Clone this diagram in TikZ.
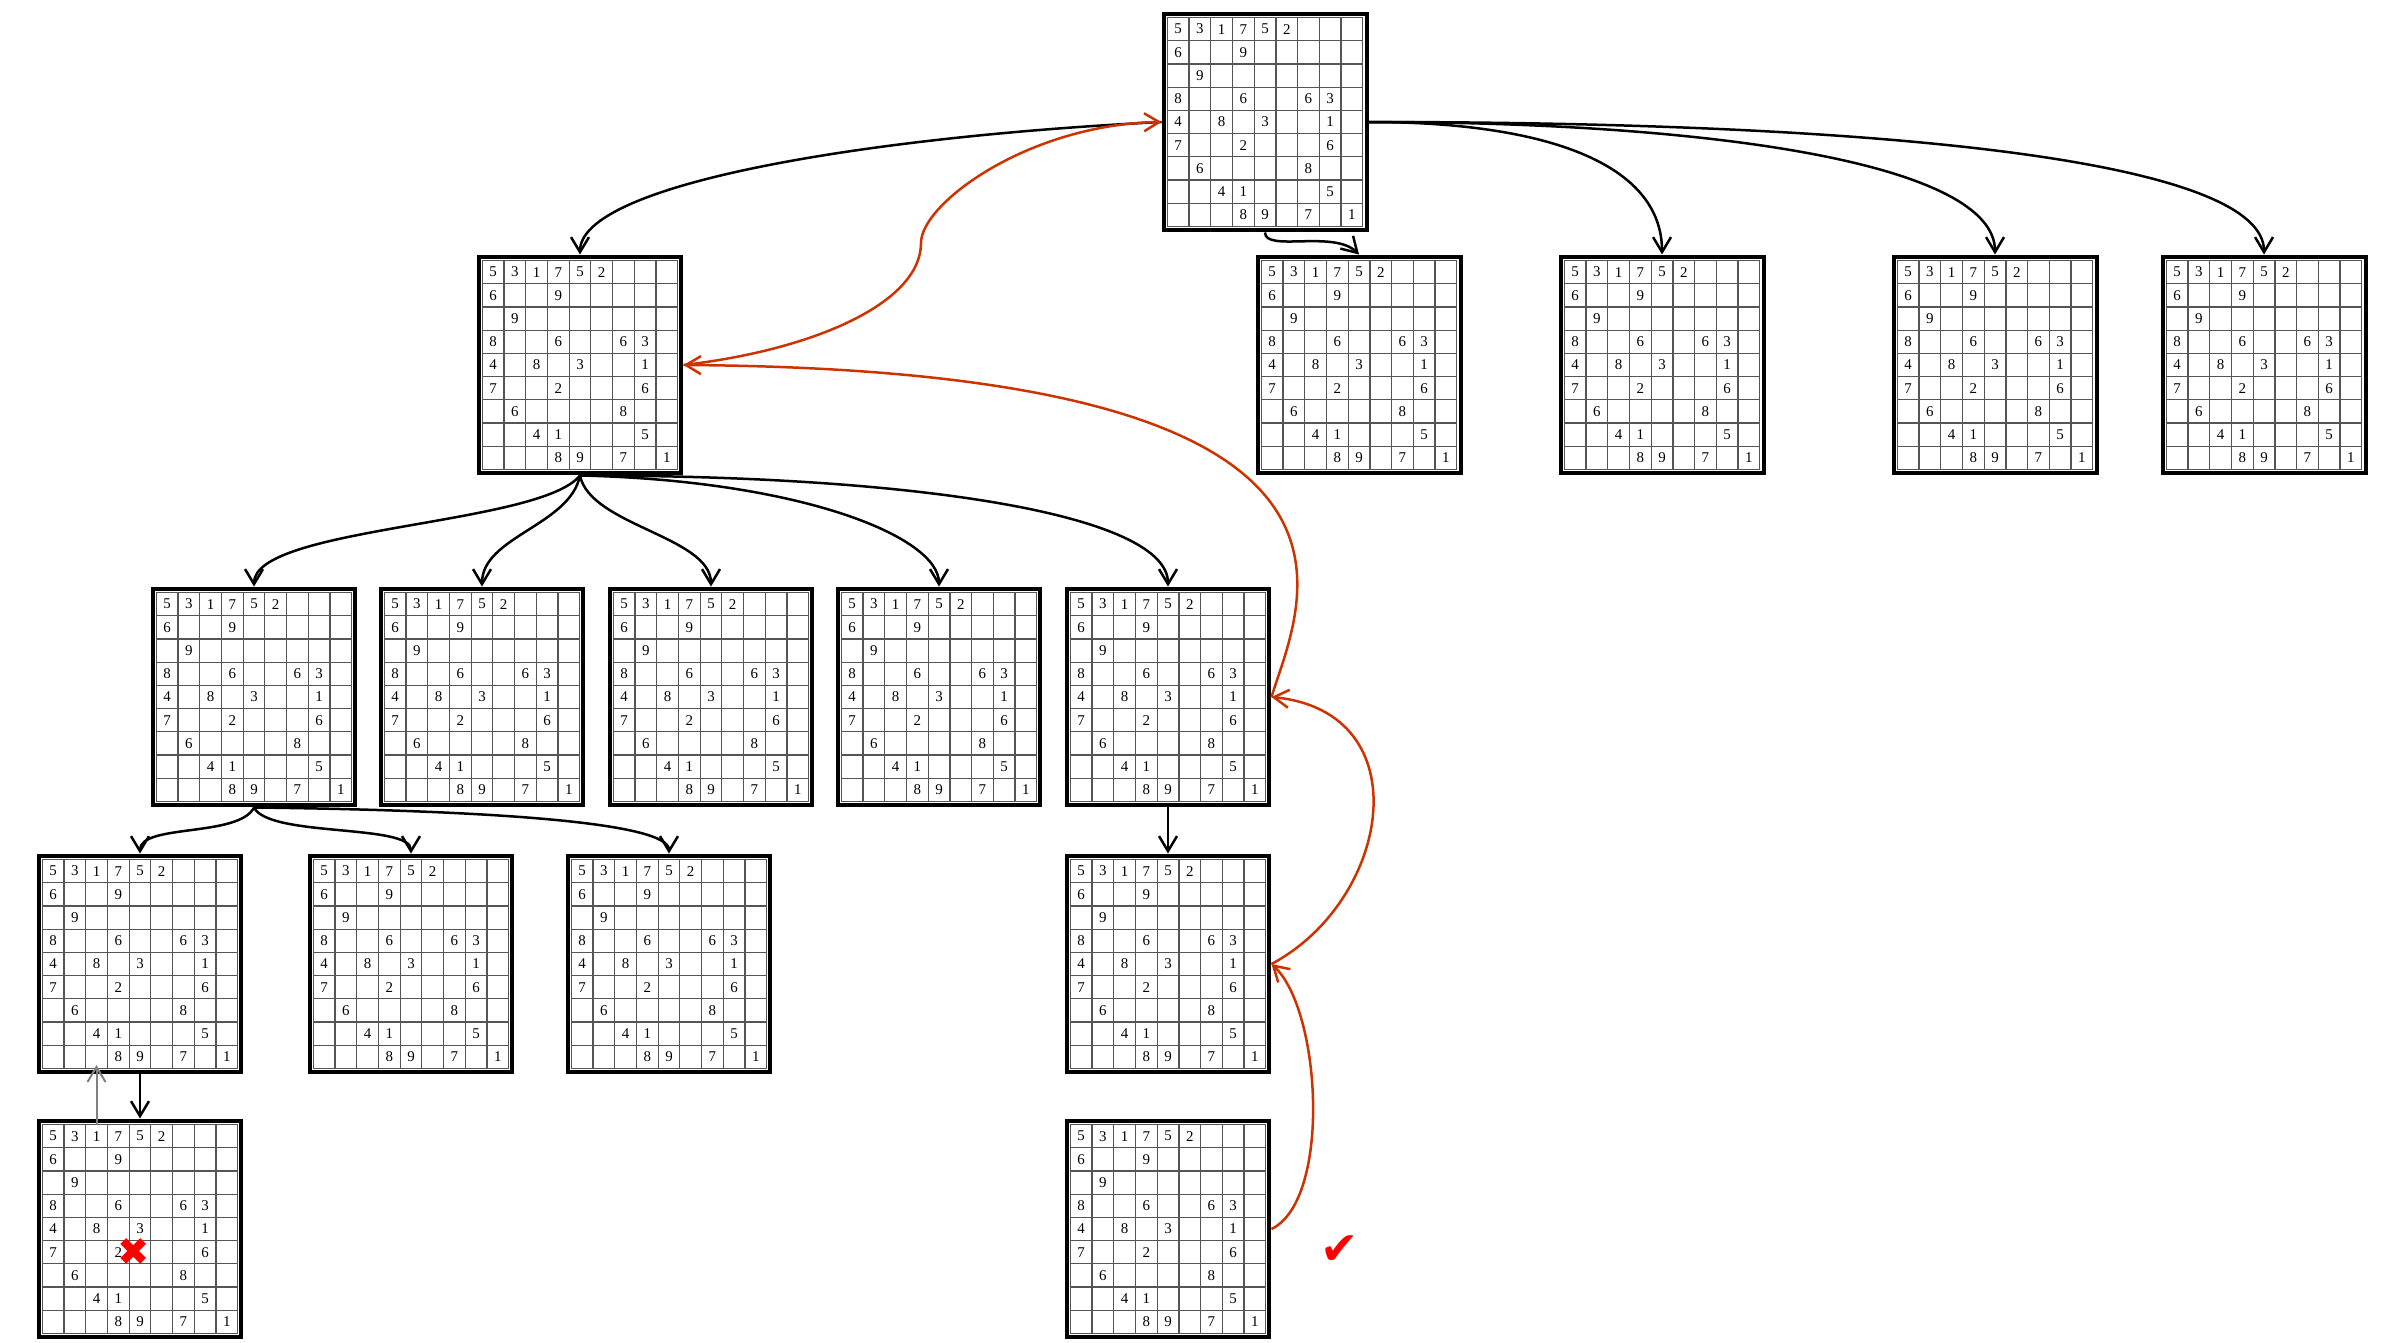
\documentclass[tikz,border=0pt]{standalone}
\usepackage{fontspec}
\setmainfont{Liberation Serif}
\newfontfamily\symfont{DejaVu Sans}
\usetikzlibrary{arrows.meta}
\definecolor{backred}{RGB}{204,51,0}
\definecolor{gridgray}{RGB}{85,85,85}
\tikzset{
  sboard/.style={draw=black, line width=0.08cm, minimum width=4.06cm, minimum height=4.34cm, inner sep=0pt, fill=white},
  gridln/.style={draw=gridgray, line width=0.025cm},
  digit/.style={inner sep=0pt, font=\fontsize{8.5}{8.5}\selectfont},
  tiphead/.style={-{Straight Barb[length=0.3cm,width=0.36cm]}},
  tree/.style={draw=black, line width=0.05cm, tiphead},
  back/.style={draw=backred, line width=0.05cm, tiphead},
  hint/.style={draw=gray, line width=0.04cm, tiphead},
  symb/.style={text=red, inner sep=0pt},
}
\newcommand{\puzzle}[3]{%
  \node[sboard] (#1) at (#2,-#3) {};
  \begin{scope}[shift={(#2,-#3)}]
    \foreach \k in {0,...,9} {
      \draw[gridln] ({-97.75+\k*21.7222},104.5) -- ({-97.75+\k*21.7222},-104.5);
      \draw[gridln] (-97.75,{104.5-\k*23.2222}) -- (97.75,{104.5-\k*23.2222});
    }
    \foreach \ri/\ci/\di in {1/1/5,1/2/3,1/3/1,1/4/7,1/5/5,1/6/2,
        2/1/6,2/4/9,3/2/9,4/1/8,4/4/6,4/7/6,4/8/3,
        5/1/4,5/3/8,5/5/3,5/8/1,6/1/7,6/4/2,6/8/6,
        7/2/6,7/7/8,8/3/4,8/4/1,8/8/5,9/4/8,9/5/9,9/7/7,9/9/1} {
      \node[digit] (#1-\ri-\ci) at ({-97.75+(\ci-0.5)*21.7222},{104.5-(\ri-0.5)*23.2222}) {\di};
    }
  \end{scope}
}
\begin{document}
\begin{tikzpicture}[x=0.02cm,y=0.02cm]
\useasboundingbox (0,0) rectangle (2382,-1342);
% boards
\puzzle{t}{1265}{122}
\puzzle{a}{580}{365}
\puzzle{b1}{1359}{365}
\puzzle{b2}{1662}{365}
\puzzle{b3}{1995}{365}
\puzzle{b4}{2264}{365}
\puzzle{c1}{254}{697}
\puzzle{c2}{482}{697}
\puzzle{c3}{711}{697}
\puzzle{c4}{939}{697}
\puzzle{c5}{1168}{697}
\puzzle{d1}{140}{964}
\puzzle{d2}{411}{964}
\puzzle{d3}{669}{964}
\puzzle{d4}{1168}{964}
\puzzle{e1}{140}{1229}
\puzzle{e2}{1168}{1229}
% marks
\node[symb, font=\symfont\fontsize{22}{22}\selectfont] (fail) at (134,-1252) {✖};
\node[symb, font=\symfont\fontsize{26}{26}\selectfont] (ok) at (1340,-1250) {✔};
% search tree
\draw[tree] (t.west) .. controls +(-300,-15) and +(0,70) .. (a.north);
\draw[tree] (t.south) .. controls +(0,-20) and +(-25,25) .. (b1.north);
\draw[tree] (t.east) .. controls +(180,0) and +(0,90) .. (b2.north);
\draw[tree] (t.east) .. controls +(350,0) and +(0,90) .. (b3.north);
\draw[tree] (t.east) .. controls +(550,0) and +(0,90) .. (b4.north);
\draw[tree] (a.south) .. controls +(-40,-50) and +(0,60) .. (c1.north);
\draw[tree] (a.south) .. controls +(-10,-50) and +(0,50) .. (c2.north);
\draw[tree] (a.south) .. controls +(10,-50) and +(0,50) .. (c3.north);
\draw[tree] (a.south) .. controls +(220,-5) and +(0,50) .. (c4.north);
\draw[tree] (a.south) .. controls +(350,0) and +(0,70) .. (c5.north);
\draw[tree] (c1.south) .. controls +(-15,-30) and +(0,30) .. (d1.north);
\draw[tree] (c1.south) .. controls +(15,-30) and +(0,30) .. (d2.north);
\draw[tree] (c1.south) .. controls +(250,-3) and +(0,30) .. (d3.north);
\draw[tree] (c5.south) -- (d4.north);
\draw[tree] (d1.south) -- (e1.north);
% hint arrow
\coordinate (hs) at (96.5,-1124.5);
\coordinate (he) at (96.5,-1065);
\draw[hint] (hs) -- (he);
% backtracking path
\coordinate (rmid) at (921,-243);
\draw[back] (e2.east) .. controls +(60,29) and +(50,-46) .. (d4.east);
\draw[back] (d4.east) .. controls +(120,64) and +(150,-15) .. (c5.east);
\draw[back] (c5.east) .. controls +(30,97) and +(738,-5) .. (a.east);
\draw[back] (a.east) .. controls +(130,15) and +(0,-60) .. (rmid)
            .. controls +(0,40) and +(-132,-2) .. (t.west);
\end{tikzpicture}
\end{document}
